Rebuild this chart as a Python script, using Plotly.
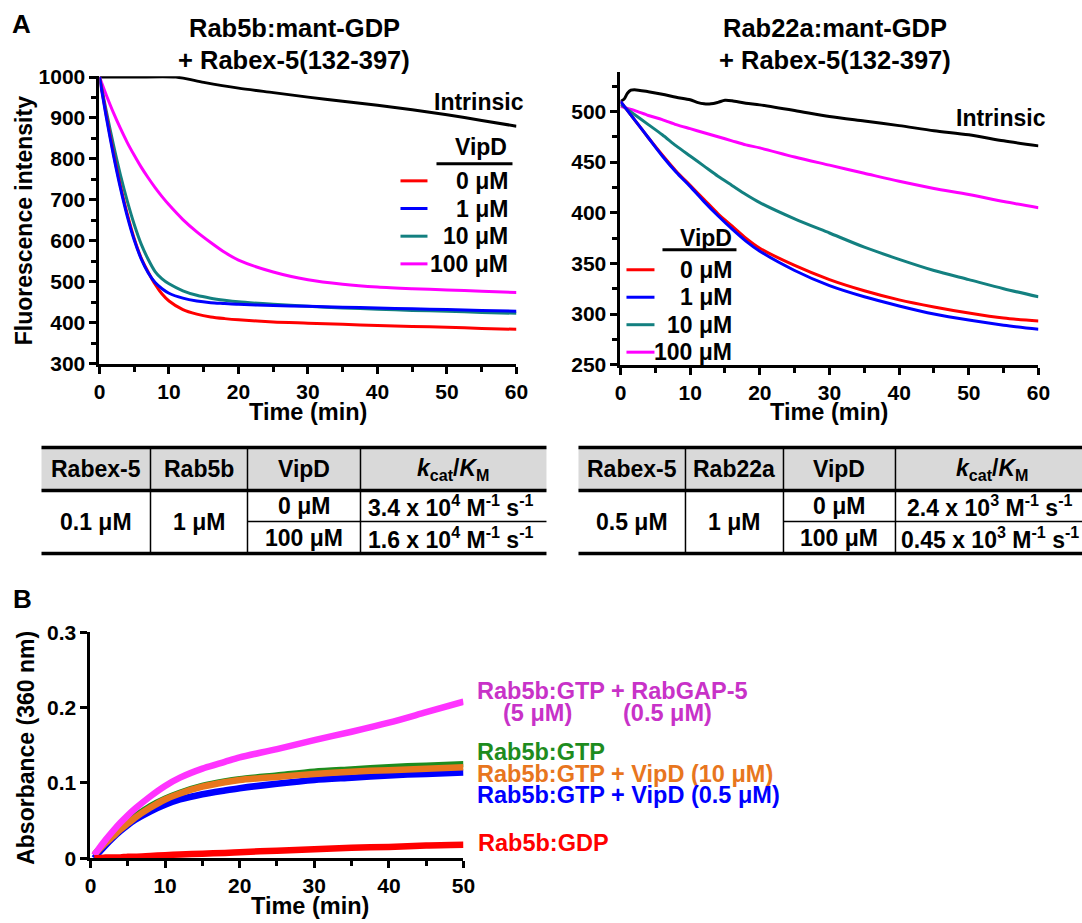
import plotly.graph_objects as go

W, H = 1082, 923
FONT = "Liberation Sans, Arial, Helvetica, sans-serif"

# ---------------- Panel A (left): Rab5b ----------------
tA = [0, 1, 2, 3, 4, 5, 6, 7, 8, 9, 10, 12, 14, 16, 18, 20, 25, 30, 35, 40, 45, 50, 55, 60]
a_red = [1000, 905, 815, 735, 665, 605, 558, 524, 494, 470, 453, 432, 421, 414, 410, 407, 402, 399, 396, 393, 391, 389, 386, 384]
a_blue = [1000, 900, 810, 730, 660, 602, 556, 522, 498, 483, 472, 460, 453, 449, 447, 445, 442, 440, 438, 436, 434, 432, 430, 428]
a_teal = [1000, 915, 835, 762, 697, 640, 592, 555, 525, 507, 495, 478, 467, 460, 455, 451, 445, 440, 436, 433, 430, 428, 425, 423]
a_mag = [1000, 955, 913, 875, 840, 809, 780, 754, 730, 708, 688, 652, 622, 596, 572, 553, 524, 505, 494, 487, 483, 480, 477, 474]
tA_int = [0, 5, 11, 15, 20, 25, 30, 35, 40, 45, 50, 55, 60]
a_int = [1000, 1000, 1000, 987, 973, 962, 951, 941, 931, 920, 908, 894, 880]

# ---------------- Panel A (right): Rab22a ----------------
tR = [0, 2, 4, 6, 8, 10, 12, 14, 16, 18, 20, 25, 30, 35, 40, 45, 50, 55, 60]
r_red = [510, 492, 474, 457, 441, 427, 413, 399, 387, 375, 365, 348, 334, 323, 314, 307, 301, 296, 293]
r_blue = [510, 492, 474, 456, 440, 426, 411, 397, 384, 372, 362, 343, 328, 317, 308, 300, 294, 289, 285]
r_teal = [507, 497, 487, 477, 466, 456, 446, 436, 427, 418, 410, 394, 380, 366, 354, 343, 334, 325, 317]
r_mag = [505, 501, 496, 492, 487, 483, 479, 475, 471, 467, 464, 455, 447, 439, 431, 424, 418, 411, 405]
tR_int = [0, 0.5, 1, 1.5, 2, 4, 6, 8, 10, 11, 12, 13, 14, 15, 16, 18, 20, 25, 30, 35, 40, 45, 50, 55, 60]
r_int = [510, 512, 518, 521, 521.5, 519.5, 517, 514, 511.5, 509, 507.5, 507.5, 509, 511, 510.5, 508, 506.5, 501, 495, 490.5, 486, 481, 477, 471, 466]

vipd_labels = ["0 μM", "1 μM", "10 μM", "100 μM"]
vipd_colors = ["#ff0000", "#0000ff", "#138080", "#ff00ff"]

# ---------------- Panel B ----------------
tB = [0.5, 1, 2, 3, 4, 5, 6, 8, 10, 12, 15, 18, 20, 25, 30, 35, 40, 45, 50]
b_gap = [0.004, 0.011, 0.024, 0.036, 0.047, 0.057, 0.066, 0.082, 0.096, 0.107, 0.119, 0.128, 0.134, 0.145, 0.157, 0.168, 0.180, 0.194, 0.208]
b_gtp = [0.004, 0.010, 0.021, 0.031, 0.040, 0.049, 0.056, 0.069, 0.079, 0.087, 0.096, 0.102, 0.105, 0.110, 0.115, 0.118, 0.121, 0.123, 0.125]
b_vipd10 = [0.005, 0.010, 0.020, 0.029, 0.038, 0.046, 0.054, 0.067, 0.078, 0.086, 0.095, 0.101, 0.104, 0.108, 0.112, 0.115, 0.117, 0.119, 0.121]
b_vipd05 = [0.000, 0.006, 0.017, 0.027, 0.036, 0.044, 0.051, 0.062, 0.071, 0.078, 0.085, 0.090, 0.093, 0.099, 0.104, 0.107, 0.110, 0.112, 0.114]
b_gdp = [0.000, 0.000, 0.001, 0.001, 0.001, 0.002, 0.002, 0.003, 0.004, 0.005, 0.006, 0.007, 0.008, 0.010, 0.012, 0.014, 0.015, 0.017, 0.018]

# ---------------- Tables ----------------
tbl_head_L = ["Rabex-5", "Rab5b", "VipD", "<i>k</i><sub>cat</sub>/<i>K</i><sub>M</sub>"]
tbl_rabex_L, tbl_rab_L = "0.1 μM", "1 μM"
tbl_vipd_L = ["0 μM", "100 μM"]
tbl_k_L = ["3.4 x 10<sup>4</sup> M<sup>-1</sup> s<sup>-1</sup>", "1.6 x 10<sup>4</sup> M<sup>-1</sup> s<sup>-1</sup>"]
tbl_head_R = ["Rabex-5", "Rab22a", "VipD", "<i>k</i><sub>cat</sub>/<i>K</i><sub>M</sub>"]
tbl_rabex_R, tbl_rab_R = "0.5 μM", "1 μM"
tbl_vipd_R = ["0 μM", "100 μM"]
tbl_k_R = ["2.4 x 10<sup>3</sup> M<sup>-1</sup> s<sup>-1</sup>", "0.45 x 10<sup>3</sup> M<sup>-1</sup> s<sup>-1</sup>"]

# The photographed page shows the figure slightly inset and scaled;
# layout positions below are given in target-picture pixels and mapped back.
SX, OX, SY, OY = 0.9834, 7.5, 0.976, 12.0


def px(x):
    return ((x - OX) / SX) / W


def py(y):
    return 1 - ((y - OY) / SY) / H


fig = go.Figure()


def line(x, y, color, width, xa, ya):
    fig.add_trace(go.Scatter(x=x, y=y, mode="lines", xaxis=xa, yaxis=ya,
                             line=dict(color=color, width=width, shape="spline", smoothing=0.8),
                             showlegend=False, hoverinfo="skip"))


line(tA_int, a_int, "black", 3, "x", "y")
line(tA, a_mag, vipd_colors[3], 3, "x", "y")
line(tA, a_teal, vipd_colors[2], 3, "x", "y")
line(tA, a_red, vipd_colors[0], 3, "x", "y")
line(tA, a_blue, vipd_colors[1], 3, "x", "y")
line(tR_int, r_int, "black", 3, "x2", "y2")
line(tR, r_mag, vipd_colors[3], 3, "x2", "y2")
line(tR, r_teal, vipd_colors[2], 3, "x2", "y2")
line(tR, r_red, vipd_colors[0], 3, "x2", "y2")
line(tR, r_blue, vipd_colors[1], 3, "x2", "y2")
line(tB, b_vipd05, "#0000ff", 6.5, "x3", "y3")
line(tB, b_gtp, "#1e8c1e", 6.5, "x3", "y3")
line(tB, b_vipd10, "#e8761e", 6.5, "x3", "y3")
line(tB, b_gap, "#ff33ff", 6.5, "x3", "y3")
line(tB, b_gdp, "#ff0000", 6.5, "x3", "y3")

tickfont = dict(family=FONT, size=21, color="black", weight="bold")


def axis(domain, rng, dtick, minor_dtick=None, **kw):
    d = dict(domain=domain, range=rng, dtick=dtick, tick0=0, showgrid=False, zeroline=False,
             showline=True, linecolor="black", linewidth=3, ticks="outside", ticklen=7,
             tickwidth=3, tickcolor="black", tickfont=tickfont, fixedrange=True)
    if minor_dtick:
        d["minor"] = dict(dtick=minor_dtick, tick0=0, ticks="outside", ticklen=5, tickwidth=3,
                          tickcolor="black", showgrid=False)
    d.update(kw)
    return d


fig.update_layout(
    width=W, height=H, margin=dict(l=0, r=0, t=0, b=0), autosize=False,
    paper_bgcolor="white", plot_bgcolor="rgba(0,0,0,0)",
    xaxis=axis([px(101), px(518)], [0, 60], 10, 5, anchor="y"),
    yaxis=axis([py(364), py(76.3)], [300, 1002], 100, 50, anchor="x"),
    xaxis2=axis([px(622), px(1040)], [0, 60], 10, 5, anchor="y2"),
    yaxis2=axis([py(365), py(72)], [250, 539], 50, 25, anchor="x2"),
    xaxis3=axis([px(92), px(465)], [0, 50], 10, 5, anchor="y3"),
    yaxis3=axis([py(859), py(633)], [0, 0.3], 0.1, None, anchor="x3"),
)

ann = []
shapes = []


def text(x, y, s, size=20, color="black", xanchor="center", angle=0):
    ann.append(dict(x=px(x), y=py(y), xref="paper", yref="paper", text=s, showarrow=False,
                    xanchor=xanchor, yanchor="middle", textangle=angle,
                    font=dict(family=FONT, size=size, color=color, weight="bold")))


def seg(x0, y0, x1, y1, color="black", width=2):
    shapes.append(dict(type="line", xref="paper", yref="paper", x0=px(x0), y0=py(y0),
                       x1=px(x1), y1=py(y1), line=dict(color=color, width=width)))


text(23, 24, "A", size=26)
text(24, 600, "B", size=26)
text(296, 28, "Rab5b:mant-GDP", size=25.5)
text(296, 60, "+ Rabex-5(132-397)", size=25.5)
text(837, 28, "Rab22a:mant-GDP", size=25.5)
text(837, 60, "+ Rabex-5(132-397)", size=25.5)

text(25, 221, "Fluorescence intensity", size=23, angle=-90)
text(310, 412, "Time (min)", size=23.5)
text(831, 412, "Time (min)", size=23.5)
text(28, 748, "Absorbance (360 nm)", size=23, angle=-90)
text(312, 907, "Time (min)", size=23.5)

text(528, 102, "Intrinsic", size=23, xanchor="right")
text(511, 147, "VipD", size=23, xanchor="right")
seg(438, 164, 514, 164, width=3)
for i, (lab, col) in enumerate(zip(vipd_labels, vipd_colors)):
    yy = 181 + i * 27.7
    seg(402, yy, 429, yy, color=col, width=3)
    text(512, yy, lab, size=23, xanchor="right")

text(1050, 118, "Intrinsic", size=23, xanchor="right")
text(736, 238, "VipD", size=23, xanchor="right")
seg(664, 250, 738, 250, width=3)
for i, (lab, col) in enumerate(zip(vipd_labels, vipd_colors)):
    yy = 270 + i * 27.5
    seg(628, yy, 656, yy, color=col, width=3)
    text(736, yy, lab, size=23, xanchor="right")

text(477, 692, "Rab5b:GTP + RabGAP-5", size=23.5, color="#c832c8", xanchor="left")
text(503, 714, "(5 μM)", size=23.5, color="#c832c8", xanchor="left")
text(623, 714, "(0.5 μM)", size=23.5, color="#c832c8", xanchor="left")
text(477, 753, "Rab5b:GTP", size=23.5, color="#1e8c1e", xanchor="left")
text(477, 775, "Rab5b:GTP + VipD (10 μM)", size=23.5, color="#e8761e", xanchor="left")
text(477, 796, "Rab5b:GTP + VipD (0.5 μM)", size=23.5, color="#0000ff", xanchor="left")
text(478, 844, "Rab5b:GDP", size=23.5, color="#ff0000", xanchor="left")


def table(cols, head, rabex, rab, vipd, kvals):
    x0, x1, x2, x3, x4 = cols
    top, hb, mid, bot = 448, 491, 522, 554
    shapes.append(dict(type="rect", xref="paper", yref="paper", x0=px(x0), x1=px(x4),
                       y0=py(hb), y1=py(top), fillcolor="#d9d9d9", line=dict(width=0), layer="below"))
    seg(x0, top, x4, top, width=3.5)
    seg(x0, hb, x4, hb, width=3.5)
    seg(x0, bot, x4, bot, width=3.5)
    seg(x2, mid, x4, mid, width=1.5)
    for xv in (x1, x2, x3):
        seg(xv, top, xv, bot, width=1.5)
    centers = [(x0 + x1) / 2, (x1 + x2) / 2, (x2 + x3) / 2, (x3 + x4) / 2]
    for c, h in zip(centers, head):
        text(c, 469.5, h, size=23)
    text(centers[0], 522.5, rabex, size=23)
    text(centers[1], 522.5, rab, size=23)
    for yy, v, k in zip([506.5, 538], vipd, kvals):
        text(centers[2], yy, v, size=23)
        text(centers[3] - 2, yy, k, size=23)


table([43, 152, 249, 362, 548], tbl_head_L, tbl_rabex_L, tbl_rab_L, tbl_vipd_L, tbl_k_L)
table([580, 687, 785, 897, 1090], tbl_head_R, tbl_rabex_R, tbl_rab_R, tbl_vipd_R, tbl_k_R)

fig.update_layout(annotations=ann, shapes=shapes)
fig.write_html("out.html", config={"displayModeBar": False},
               post_script="document.body.style.margin='0';document.body.style.padding='0';"
                           "document.body.style.overflow='hidden';")
